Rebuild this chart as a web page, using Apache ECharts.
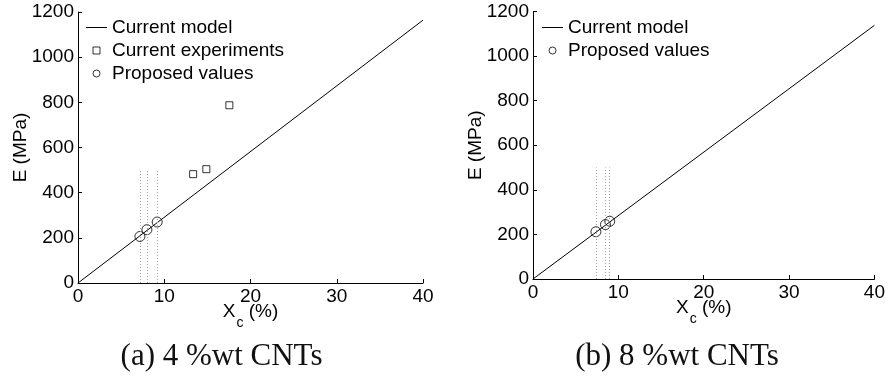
<!DOCTYPE html>
<html>
<head>
<meta charset="utf-8">
<script src="https://cdn.jsdelivr.net/npm/echarts@6/dist/echarts.min.js"></script>
<style>
html,body{margin:0;padding:0;background:#fff;}
#c{width:888px;height:377px;}
</style>
</head>
<body>
<div id="c"></div>
<script>
// ---- data (a) 4 %wt CNTs ----
const modelA = [[0, 0], [40, 1164]];
const expA = [[13.35, 482], [14.88, 504], [17.55, 787]];
const propA = [[7.18, 206], [7.99, 236], [9.18, 270]];
// ---- data (b) 8 %wt CNTs ----
const modelB = [[0, 0], [40, 1138]];
const propB = [[7.37, 212], [8.49, 244], [8.99, 259]];
// guide lines (vertical dotted) top value
const guideTop = 500;
// axes
const xMin = 0, xMax = 40, xStep = 10;
const yMin = 0, yMax = 1200, yStep = 200;
const captions = ['(a) 4 %wt CNTs', '(b) 8 %wt CNTs'];
const seriesNames = ['Current model', 'Current experiments', 'Proposed values'];
const xName = '{x|X}{c|c}{p| (%)}';
const yName = 'E (MPa)';

const FONT = 'Liberation Sans';
const FS = 19;
const TXT = '#000';

function xAxis(gi) {
  return {
    gridIndex: gi, type: 'value', min: xMin, max: xMax, interval: xStep,
    name: xName, nameLocation: 'middle', nameGap: 19, nameMoveOverlap: false,
    nameTextStyle: {
      rich: {
        x: {fontFamily: FONT, fontSize: FS, color: TXT, lineHeight: FS},
        c: {fontFamily: FONT, fontSize: 14, color: TXT, lineHeight: 14, padding: [23, 0, 0, 1]},
        p: {fontFamily: FONT, fontSize: FS, color: TXT, lineHeight: FS}
      }
    },
    axisLine: {lineStyle: {color: '#000', width: 1}},
    axisTick: {inside: true, length: 4, lineStyle: {color: '#000'}},
    axisLabel: {fontFamily: FONT, fontSize: FS, color: TXT, margin: 4},
    splitLine: {show: false}
  };
}
function yAxis(gi) {
  return {
    gridIndex: gi, type: 'value', min: yMin, max: yMax, interval: yStep,
    name: yName, nameLocation: 'middle', nameGap: 48, nameMoveOverlap: false,
    nameTextStyle: {fontFamily: FONT, fontSize: FS, color: TXT},
    axisLine: {show: true, lineStyle: {color: '#000', width: 1}},
    axisTick: {show: true, inside: true, length: 4, lineStyle: {color: '#000'}},
    axisLabel: {fontFamily: FONT, fontSize: FS, color: TXT, margin: 4, formatter: v => String(v)},
    splitLine: {show: false}
  };
}
function guides(pts) {
  return {
    symbol: ['none', 'none'], silent: true, animation: false,
    label: {show: false},
    lineStyle: {type: [1, 2], color: '#a0a0a0', width: 1},
    emphasis: {disabled: true},
    data: pts.map(p => [{coord: [p[0], yMin]}, {coord: [p[0], guideTop]}])
  };
}
const hollow = {color: 'transparent', borderColor: '#000', borderWidth: 1};
const lineIcon = 'path://M0,0H21V1H0Z';
const squareIcon = 'path://M0,0H1V1H0Z';

function legendItems(names) {
  return names.map(n => {
    if (n === seriesNames[0]) return {name: n, icon: lineIcon, itemStyle: {color: '#000', borderWidth: 0}};
    if (n === seriesNames[1]) return {name: n, icon: squareIcon, itemStyle: hollow};
    return {name: n, icon: 'circle', itemStyle: hollow};
  });
}

const option = {
  animation: false,
  backgroundColor: '#fff',
  grid: [
    {left: 78, top: 12, width: 345, height: 271},
    {left: 533, top: 11.5, width: 345, height: 267.5}
  ],
  xAxis: [xAxis(0), xAxis(1)],
  yAxis: [yAxis(0), yAxis(1)],
  legend: [
    {
      orient: 'vertical', left: 86, top: 18, padding: 0, itemWidth: 21, itemHeight: 7, itemGap: 4,
      textStyle: {fontFamily: FONT, fontSize: FS, color: TXT},
      selectedMode: false,
      data: legendItems(seriesNames)
    },
    {
      orient: 'vertical', left: 542, top: 18, padding: 0, itemWidth: 21, itemHeight: 7, itemGap: 4,
      textStyle: {fontFamily: FONT, fontSize: FS, color: TXT},
      selectedMode: false,
      data: legendItems([seriesNames[0], seriesNames[2]])
    }
  ],
  series: [
    {name: seriesNames[0], type: 'line', xAxisIndex: 0, yAxisIndex: 0, data: modelA,
     symbol: 'none', showSymbol: false, lineStyle: {color: '#000', width: 1}, itemStyle: {color: '#000'},
     silent: true, markLine: guides(propA)},
    {name: seriesNames[1], type: 'scatter', xAxisIndex: 0, yAxisIndex: 0, data: expA,
     symbol: 'rect', symbolSize: 7, itemStyle: hollow, silent: true, z: 3},
    {name: seriesNames[2], type: 'scatter', xAxisIndex: 0, yAxisIndex: 0, data: propA,
     symbol: 'circle', symbolSize: 10, itemStyle: hollow, silent: true, z: 3},
    {name: seriesNames[0], type: 'line', xAxisIndex: 1, yAxisIndex: 1, data: modelB,
     symbol: 'none', showSymbol: false, lineStyle: {color: '#000', width: 1}, itemStyle: {color: '#000'},
     silent: true, markLine: guides(propB)},
    {name: seriesNames[2], type: 'scatter', xAxisIndex: 1, yAxisIndex: 1, data: propB,
     symbol: 'circle', symbolSize: 10, itemStyle: hollow, silent: true, z: 3}
  ],
  graphic: [
    {type: 'text', x: 221.5, y: 357, silent: true,
     style: {text: captions[0], font: '31px "Liberation Serif"', fill: '#111', textAlign: 'center', textVerticalAlign: 'middle'}},
    {type: 'text', x: 677, y: 357, silent: true,
     style: {text: captions[1], font: '31px "Liberation Serif"', fill: '#111', textAlign: 'center', textVerticalAlign: 'middle'}}
  ]
};
const chart = echarts.init(document.getElementById('c'), null, {renderer: 'canvas'});
chart.setOption(option);
</script>
</body>
</html>
